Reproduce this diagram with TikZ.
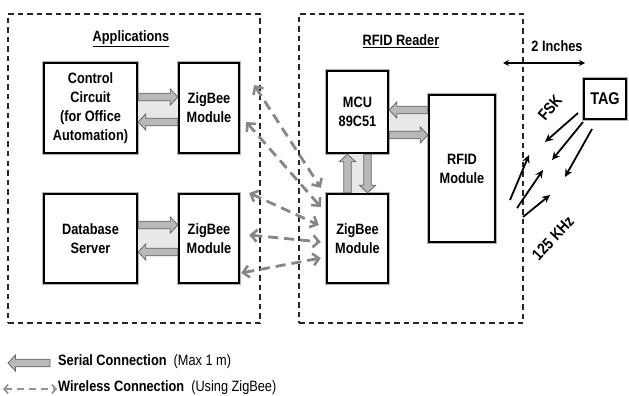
\documentclass[tikz,border=0pt]{standalone}
\usepackage{fontspec}
\setmainfont[FakeStretch=0.85]{Liberation Sans}
\usetikzlibrary{arrows.meta,calc}
\newcommand\blockarr[2]{%
  \path[serial] let \p1=#1, \p2=#2, \n1={atan2(\y2-\y1,\x2-\x1)}, \n2={veclen(\x2-\x1,\y2-\y1)} in
   [shift={(\x1,\y1)}, rotate=\n1] (0pt,-3.8pt) -- ({\n2-7.5pt},-3.8pt) -- ({\n2-7.5pt},-8pt) -- ({\n2*1pt},0pt)
   -- ({\n2-7.5pt},8pt) -- ({\n2-7.5pt},3.8pt) -- (0pt,3.8pt) -- cycle;}
\begin{document}
\begin{tikzpicture}[x=1pt,y=-1pt,
  grp/.style={draw=black!85, line width=1.4pt, dash pattern=on 5.5pt off 4pt, inner sep=0pt},
  box/.style={draw=black, line width=2.4pt, preaction={draw=gray!60, line width=4.8pt}, fill=white,
    inner sep=0pt, align=center, font=\fontsize{15}{19}\selectfont\bfseries},
  title/.style={font=\fontsize{15}{18}\selectfont\bfseries, inner sep=0pt},
  lbl/.style={font=\fontsize{15}{18}\selectfont, inner sep=0pt, anchor=west},
  serial/.style={fill=gray!55, draw=gray!80!black, line width=0.8pt},
  shadefill/.style={fill=gray!18},
  wl/.style={draw=gray!95, line width=2.8pt, dash pattern=on 10pt off 6pt,
    {Straight Barb[length=6pt,width=12pt,line width=2.6pt]}-{Straight Barb[length=6pt,width=12pt,line width=2.6pt]}},
  rf/.style={draw=black, line width=1.8pt, -{Stealth[length=8pt,width=7.5pt]}}]
\useasboundingbox (0,0) rectangle (629,396);
% groups
\node[grp, minimum width=252pt, minimum height=309pt] (app) at (134,168.5) {};
\node[grp, minimum width=224pt, minimum height=309pt] (rdr) at (411,168.5) {};
\node[title] (apptitle) at (131,39) {\underline{Applications}};
\node[title] (rdrtitle) at (401,41) {\underline{RFID Reader}};
% boxes
\node[box, minimum width=93pt, minimum height=90pt] (cc) at (90.5,108) {Control\\Circuit\\(for Office\\Automation)};
\node[box, minimum width=60pt, minimum height=90pt] (zt) at (209,108) {ZigBee\\Module};
\node[box, minimum width=93pt, minimum height=89pt] (db) at (90.5,238.5) {Database\\Server};
\node[box, minimum width=60pt, minimum height=89pt] (zb) at (209,238.5) {ZigBee\\Module};
\node[box, minimum width=61pt, minimum height=82pt] (mcu) at (357.5,112) {MCU\\89C51};
\node[box, minimum width=66pt, minimum height=147pt] (rfid) at (462,168.5) {RFID\\Module};
\node[box, minimum width=61pt, minimum height=89pt] (zr) at (357.5,238.5) {ZigBee\\Module};
\node[draw=black, line width=1.3pt, preaction={draw=gray!60, line width=3.2pt}, fill=white,
  minimum width=42pt, minimum height=40pt, inner sep=0pt,
  font=\fontsize{17}{20}\selectfont\bfseries] (tag) at (605,99) {TAG};
% serial links
\fill[shadefill] ([yshift=11pt]cc.east) rectangle ([yshift=-14pt]zt.west);
\blockarr{([yshift=11pt]cc.east)}{([yshift=11pt]zt.west)}
\blockarr{([yshift=-14pt]zt.west)}{([yshift=-14pt]cc.east)}
\fill[shadefill] ([yshift=13.5pt]db.east) rectangle ([yshift=-13.5pt]zb.west);
\blockarr{([yshift=13.5pt]db.east)}{([yshift=13.5pt]zb.west)}
\blockarr{([yshift=-13.5pt]zb.west)}{([yshift=-13.5pt]db.east)}
\coordinate (m1) at ([yshift=2pt]mcu.east);
\coordinate (m2) at ([yshift=-23pt]mcu.east);
\fill[shadefill] (m1) rectangle (rfid.west |- m2);
\blockarr{(rfid.west |- m1)}{(m1)}
\blockarr{(m2)}{(rfid.west |- m2)}
\fill[shadefill] ([xshift=-10pt]mcu.south) rectangle ([xshift=10pt]zr.north);
\blockarr{([xshift=-10pt]zr.north)}{([xshift=-10pt]mcu.south)}
\blockarr{([xshift=10pt]mcu.south)}{([xshift=10pt]zr.north)}
% wireless links
\draw[wl] ([shift={(14pt,23pt)}]zt.east) -- ([shift={(-5pt,5pt)}]zr.north west);
\draw[wl] ([shift={(6pt,-14pt)}]zt.east) -- ([shift={(-5pt,31.5pt)}]zr.west);
\draw[wl] ([shift={(9pt,45.5pt)}]zb.east) -- ([shift={(-7pt,13.5pt)}]zr.west);
\draw[wl] ([shift={(9pt,3.5pt)}]zb.east) -- ([shift={(-5pt,-3.5pt)}]zr.west);
\draw[wl] ([shift={(1pt,-34.5pt)}]zb.east) -- ([shift={(-5pt,-19.5pt)}]zr.west);
% distance
\coordinate (d1) at (503,63);
\coordinate (d2) at (585,63);
\draw[line width=1.1pt, {Stealth[length=6pt,width=6pt]}-{Stealth[length=6pt,width=6pt]}] (d1) -- (d2);
\node[title] (dist) at (557,46) {2 Inches};
% RF links
\coordinate (a1) at (578,113); \coordinate (a2) at (545,142);
\coordinate (b1) at (583,122); \coordinate (b2) at (552,160);
\coordinate (c1) at (592,129); \coordinate (c2) at (565,177);
\coordinate (e1) at (510,200); \coordinate (e2) at (529,155);
\coordinate (f1) at (517,208); \coordinate (f2) at (543,170);
\coordinate (g1) at (523,217); \coordinate (g2) at (550,195);
\draw[rf] (a1) -- (a2);
\draw[rf] (b1) -- (b2);
\draw[rf] (c1) -- (c2);
\draw[rf] (e1) -- (e2);
\draw[rf] (f1) -- (f2);
\draw[rf] (g1) -- (g2);
\node[font=\fontsize{16}{18}\selectfont\bfseries, rotate=50, inner sep=0pt] (fsk) at (550,108) {FSK};
\node[font=\fontsize{16}{18}\selectfont\bfseries, rotate=47, inner sep=0pt] (khz) at (553,238) {125 KHz};
% legend
\coordinate (s1) at (50,363); \coordinate (s2) at (8,363);
\blockarr{(s1)}{(s2)}
\node[lbl] (serlbl) at (58,362) {\textbf{Serial Connection}\ \ (Max 1 m)};
\coordinate (w1) at (3,389); \coordinate (w2) at (57,389);
\draw[draw=gray!85, line width=1.8pt, dash pattern=on 7pt off 5pt,
  {Straight Barb[length=4pt,width=9pt,line width=1.7pt]}-{Straight Barb[length=4pt,width=9pt,line width=1.7pt]}] (w1) -- (w2);
\node[lbl] (wllbl) at (58,388) {\textbf{Wireless Connection}\ \ (Using ZigBee)};
\end{tikzpicture}
\end{document}
